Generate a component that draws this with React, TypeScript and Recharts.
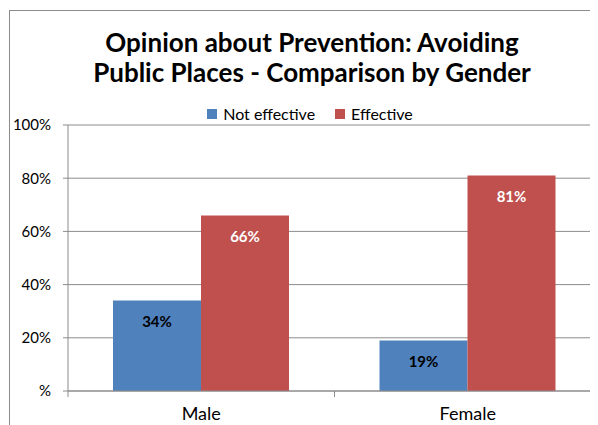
import { Bar, BarChart, CartesianGrid, LabelList, Legend, XAxis, YAxis } from "recharts";

const genders = ["Male", "Female"];
const notEffective = [34, 19];
const effective = [66, 81];
const yTicks = [0, 20, 40, 60, 80, 100];

const data = genders.map((gender, i) => ({
  gender,
  notEffective: notEffective[i],
  effective: effective[i],
}));

const FONT = "Lato, 'Open Sans', sans-serif";
const GRID = "#8c8c8c";
const TICK_GAP = 16;

function LegendBox() {
  const items = [
    { name: "Not effective", color: "#4F81BD" },
    { name: "Effective", color: "#C0504D" },
  ];
  return (
    <div style={{ display: "flex", justifyContent: "center", gap: 20, fontFamily: FONT, fontSize: 16 }}>
      {items.map((it) => (
        <span key={it.name} style={{ display: "flex", alignItems: "center", color: "#000" }}>
          <span style={{ width: 10, height: 10, background: it.color, marginRight: 6, display: "inline-block" }} />
          {it.name}
        </span>
      ))}
    </div>
  );
}

// category label plus Excel-style tick marks between categories
function GenderTick(props: any) {
  const { x, y, payload, index } = props;
  const half = payload.offset ?? 0;
  const axisY = y - TICK_GAP;
  return (
    <g>
      <line x1={x - half} x2={x - half} y1={axisY} y2={axisY + 6} stroke={GRID} />
      {index === genders.length - 1 && (
        <line x1={x + half} x2={x + half} y1={axisY} y2={axisY + 6} stroke={GRID} />
      )}
      <text x={x} y={y} dy="0.71em" textAnchor="middle" fill="#000" fontSize={18} fontFamily={FONT}>
        {payload.value}
      </text>
    </g>
  );
}

export default function App() {
  return (
    <div style={{ position: "relative", width: 590, height: 417, overflow: "hidden" }}>
      <div
        style={{
          position: "absolute",
          left: 1,
          top: 2,
          width: 640,
          height: 450,
          borderLeft: `1px solid ${GRID}`,
          borderTop: `1px solid ${GRID}`,
          background: "#fff",
        }}
      >
        <div
          style={{
            position: "absolute",
            left: 0,
            top: 16,
            width: 604,
            textAlign: "center",
            fontFamily: FONT,
            fontWeight: 700,
            fontSize: 26,
            lineHeight: "30px",
            color: "#000",
          }}
        >
          Opinion about Prevention: Avoiding
          <br />
          Public Places - Comparison by Gender
        </div>
        <BarChart
          width={591}
          height={420}
          data={data}
          margin={{ top: 95, right: 0, bottom: 0, left: 0 }}
          barCategoryGap={45}
          barGap={0}
        >
          <CartesianGrid vertical={false} stroke={GRID} strokeWidth={1} />
          <XAxis
            dataKey="gender"
            tickLine={false}
            tickSize={0}
            axisLine={{ stroke: GRID }}
            height={40}
            tickMargin={TICK_GAP}
            interval={0}
            tick={<GenderTick />}
          />
          <YAxis
            domain={[0, 100]}
            ticks={yTicks}
            width={58}
            tickSize={5}
            tickMargin={12}
            axisLine={{ stroke: GRID }}
            tickLine={{ stroke: GRID }}
            tickFormatter={(v) => (v === 0 ? "%" : `${v}%`)}
            tick={{ fill: "#000", fontSize: 15, fontFamily: FONT }}
          />
          <Legend verticalAlign="top" wrapperStyle={{ top: 93, left: 0, width: 600 }} content={() => <LegendBox />} />
          <Bar dataKey="notEffective" name="Not effective" fill="#4F81BD" isAnimationActive={false}>
            <LabelList
              dataKey="notEffective"
              position="insideTop"
              offset={16}
              formatter={(v) => `${v}%`}
              style={{ fill: "#000", fontWeight: 700, fontSize: 15, fontFamily: FONT }}
            />
          </Bar>
          <Bar dataKey="effective" name="Effective" fill="#C0504D" isAnimationActive={false}>
            <LabelList
              dataKey="effective"
              position="insideTop"
              offset={16}
              formatter={(v) => `${v}%`}
              style={{ fill: "#fff", fontWeight: 700, fontSize: 15, fontFamily: FONT }}
            />
          </Bar>
        </BarChart>
      </div>
    </div>
  );
}
